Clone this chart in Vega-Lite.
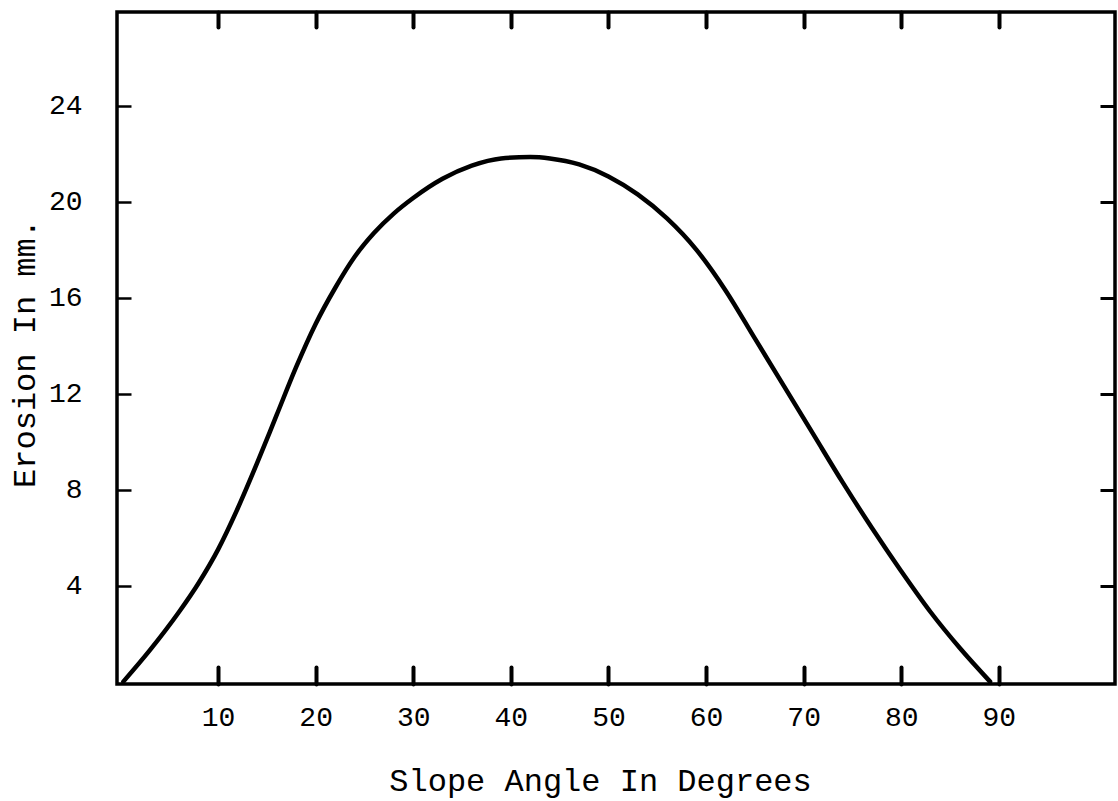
{
  "$schema": "https://vega.github.io/schema/vega-lite/v6.json",
  "autosize": {"type": "none"},
  "padding": {"left": 117, "top": 12, "right": 3, "bottom": 117},
  "width": 998,
  "height": 672,
  "background": "white",
  "config": {
    "view": {"stroke": "black", "strokeWidth": 3.5},
    "font": "Liberation Mono",
    "axis": {"grid": false, "domain": false, "labelFont": "Liberation Mono", "titleFont": "Liberation Mono", "labelColor": "black", "titleColor": "black", "tickColor": "black", "titleFontWeight": "normal"}
  },
  "data": {"values": [
    {"angle": 0.3, "erosion": 0},
    {"angle": 3, "erosion": 1.3},
    {"angle": 6, "erosion": 2.9},
    {"angle": 8, "erosion": 4.1},
    {"angle": 10, "erosion": 5.5},
    {"angle": 12, "erosion": 7.2},
    {"angle": 14, "erosion": 9.1},
    {"angle": 16, "erosion": 11.1},
    {"angle": 18, "erosion": 13.1},
    {"angle": 20, "erosion": 14.9},
    {"angle": 22, "erosion": 16.4},
    {"angle": 24, "erosion": 17.7},
    {"angle": 26, "erosion": 18.7},
    {"angle": 28, "erosion": 19.5},
    {"angle": 30, "erosion": 20.15},
    {"angle": 33, "erosion": 20.95},
    {"angle": 36, "erosion": 21.5},
    {"angle": 39, "erosion": 21.8},
    {"angle": 42, "erosion": 21.86},
    {"angle": 44, "erosion": 21.8},
    {"angle": 47, "erosion": 21.55},
    {"angle": 50, "erosion": 21.05},
    {"angle": 53, "erosion": 20.3},
    {"angle": 56, "erosion": 19.3},
    {"angle": 59, "erosion": 18.0},
    {"angle": 62, "erosion": 16.3},
    {"angle": 65, "erosion": 14.3},
    {"angle": 68, "erosion": 12.3},
    {"angle": 71, "erosion": 10.3},
    {"angle": 74, "erosion": 8.3},
    {"angle": 77, "erosion": 6.4},
    {"angle": 80, "erosion": 4.6},
    {"angle": 83, "erosion": 2.9},
    {"angle": 86, "erosion": 1.4},
    {"angle": 89.1, "erosion": 0}
  ]},
  "layer": [
    {
      "mark": {"type": "line", "color": "black", "strokeWidth": 4.5, "interpolate": "monotone", "strokeCap": "round"},
      "encoding": {
        "x": {"field": "angle", "type": "quantitative",
          "scale": {"domain": [-0.35, 101.9], "nice": false, "zero": false},
          "axis": {"orient": "bottom", "values": [10, 20, 30, 40, 50, 60, 70, 80, 90], "tickSize": -17, "tickWidth": 4, "tickCap": "round", "labelFontSize": 28, "labelPadding": 50, "labelBaseline": "middle", "title": "Slope Angle In Degrees", "titleFontSize": 32, "titleX": 483, "titleY": 106, "titleBaseline": "alphabetic", "titleAnchor": "middle"}},
        "y": {"field": "erosion", "type": "quantitative",
          "scale": {"domain": [-0.1, 27.9], "nice": false, "zero": false},
          "axis": {"orient": "left", "values": [4, 8, 12, 16, 20, 24], "tickSize": -14, "tickWidth": 2.5, "labelFontSize": 28, "labelPadding": 49, "title": "Erosion In mm.", "titleFontSize": 32, "titleAngle": -90, "titleX": -93, "titleY": 341, "titleBaseline": "middle", "titleAnchor": "middle"}}
      }
    },
    {
      "mark": {"type": "line", "strokeOpacity": 0},
      "encoding": {
        "x": {"field": "angle", "type": "quantitative",
          "scale": {"domain": [-0.35, 101.9], "nice": false, "zero": false},
          "axis": {"orient": "top", "values": [10, 20, 30, 40, 50, 60, 70, 80, 90], "tickSize": -15, "tickWidth": 4, "tickCap": "round", "labels": false, "title": null}},
        "y": {"field": "erosion", "type": "quantitative",
          "scale": {"domain": [-0.1, 27.9], "nice": false, "zero": false},
          "axis": {"orient": "right", "values": [4, 8, 12, 16, 20, 24], "tickSize": -15, "tickWidth": 3, "labels": false, "title": null}}
      }
    }
  ],
  "resolve": {"axis": {"x": "independent", "y": "independent"}}
}
